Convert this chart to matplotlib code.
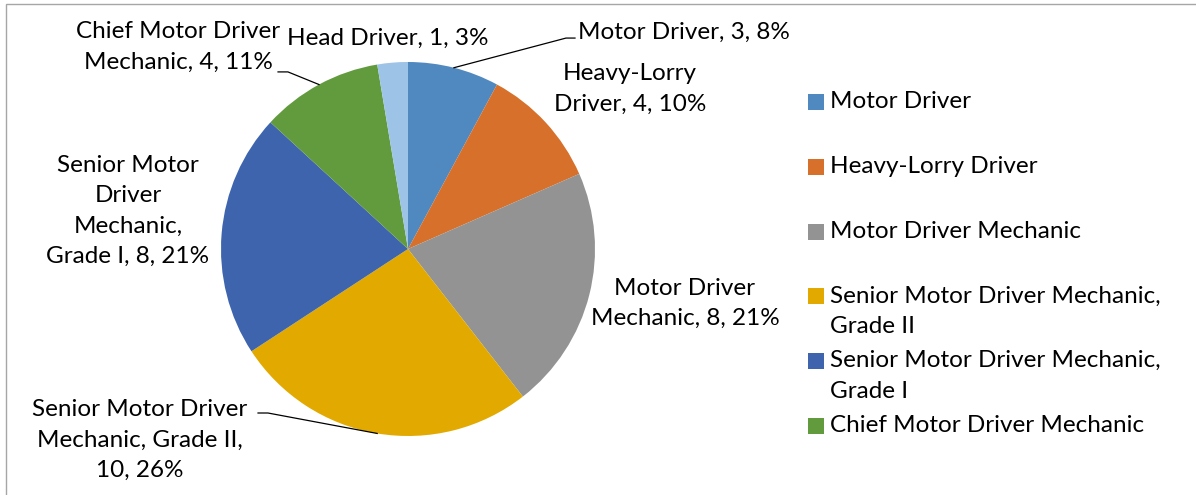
import matplotlib
matplotlib.use("Agg")
import matplotlib.pyplot as plt
from matplotlib.patches import Rectangle
import numpy as np

plt.rcParams['font.family'] = ['Lato', 'DejaVu Sans']

# data
categories = ["Motor Driver", "Heavy-Lorry Driver", "Motor Driver Mechanic",
              "Senior Motor Driver Mechanic, Grade II",
              "Senior Motor Driver Mechanic, Grade I",
              "Chief Motor Driver Mechanic", "Head Driver"]
values = [3, 4, 8, 10, 8, 4, 1]
percents = [8, 10, 21, 26, 21, 11, 3]  # as shown (rounded to sum 100)
colors = ["#4f89c0", "#d6702b", "#939393", "#e2aa00", "#3d64ad", "#629b3e", "#9dc3e6"]

# wrapped names for the data labels, and the separator before the value
label_names = ["Motor Driver", "Heavy-Lorry\nDriver", "Motor Driver\nMechanic",
               "Senior Motor Driver\nMechanic, Grade II", "Senior Motor\nDriver\nMechanic,\nGrade I",
               "Chief Motor Driver\nMechanic", "Head Driver"]
label_seps = [", ", ", ", ", ", ",\n", ", ", ", ", ", "]
legend_names = ["Motor Driver", "Heavy-Lorry Driver", "Motor Driver Mechanic",
                "Senior Motor Driver Mechanic,\nGrade II",
                "Senior Motor Driver Mechanic,\nGrade I",
                "Chief Motor Driver Mechanic"]

# label layout (pie radius units)
label_pos = [(0.909, 1.16), (1.187, 0.855), (1.481, -0.29), (-1.433, -1.021),
             (-1.497, 0.203), (-1.23, 1.08), (-0.107, 1.128)]
label_ha = ["left", "center", "center", "center", "center", "center", "center"]
leaders = {0: [(0.845, 1.128), (0.893, 1.128)],
           3: [(-0.749, -0.877), (-0.802, -0.877)],
           5: [(-0.642, 0.947), (-0.695, 0.947)]}

W, H = 1196, 495
fig = plt.figure(figsize=(W / 100, H / 100), dpi=100)
fig.patches.append(Rectangle((6 / W, -0.1), 1.2, (H - 4) / H + 0.1, transform=fig.transFigure,
                             fill=False, edgecolor="#a6a6a6", linewidth=1))

cx, cy, r = 408, 249, 187
ax = fig.add_axes([(cx - r) / W, (H - cy - r) / H, 2 * r / W, 2 * r / H])
wedges, _ = ax.pie(values, colors=colors, startangle=90, counterclock=False, radius=1,
                   wedgeprops=dict(linewidth=0))
ax.set_xlim(-1, 1)
ax.set_ylim(-1, 1)
ax.set_aspect("equal")
ax.axis("off")

fs = 17.5
ls = 1.55
for i, w in enumerate(wedges):
    txt = f"{label_names[i]}{label_seps[i]}{values[i]}, {percents[i]}%"
    x, y = label_pos[i]
    ax.text(x, y, txt, ha=label_ha[i], va="center", multialignment="center",
            fontsize=fs, color="black", linespacing=ls, clip_on=False)
    if i in leaders:
        mid = np.deg2rad((w.theta1 + w.theta2) / 2)
        pts = [(np.cos(mid), np.sin(mid))] + leaders[i]
        xs, ys = zip(*pts)
        ax.plot(xs, ys, color="black", linewidth=0.9, clip_on=False)

# legend (first six entries, fixed slots)
lx, ly0, step = 808, 102, 64.8
for i, name in enumerate(legend_names):
    y = ly0 + i * step
    fig.patches.append(Rectangle((lx / W, 1 - (y + 8) / H), 16 / W, 16 / H,
                                 transform=fig.transFigure, facecolor=colors[i], edgecolor="none"))
    fig.text((lx + 22) / W, 1 - (y - 11) / H, name, ha="left", va="top",
             fontsize=fs, color="black", linespacing=ls)

fig.savefig("out.png", dpi=100)
